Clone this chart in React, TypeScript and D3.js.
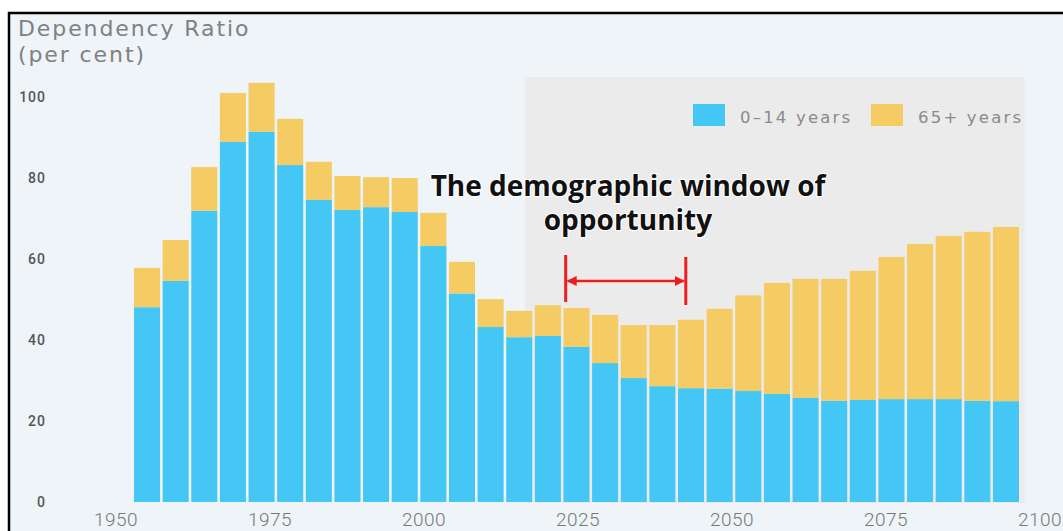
import React from "react";
import * as d3 from "d3";

const years: number[] = [1950, 1955, 1960, 1965, 1970, 1975, 1980, 1985, 1990, 1995, 2000, 2005, 2010, 2015, 2020, 2025, 2030, 2035, 2040, 2045, 2050, 2055, 2060, 2065, 2070, 2075, 2080, 2085, 2090, 2095, 2100];
const young: number[] = [48.1, 54.6, 71.9, 88.9, 91.4, 83.2, 74.6, 72.1, 72.8, 71.6, 63.2, 51.5, 43.2, 40.7, 41.0, 38.3, 34.3, 30.6, 28.6, 28.1, 28.0, 27.4, 26.7, 25.7, 25.0, 25.2, 25.4, 25.4, 25.4, 25.0, 24.9];
const old: number[] = [9.7, 10.1, 10.8, 12.1, 12.1, 11.4, 9.4, 8.4, 7.4, 8.4, 8.2, 7.8, 6.9, 6.5, 7.6, 9.6, 11.9, 13.1, 15.1, 16.9, 19.7, 23.6, 27.4, 29.4, 30.1, 31.9, 35.1, 38.3, 40.3, 41.7, 43.0];
const yTicks: number[] = [0, 20, 40, 60, 80, 100];
const xTicks: number[] = [1950, 1975, 2000, 2025, 2050, 2075, 2100];
const seriesNames: string[] = ["0\u201314 years", "65+ years"];
const seriesColors: string[] = ["#44c7f4", "#f5cb63"];
const windowYears: number[] = [2023, 2042.5];
const shadeYears: number[] = [2016.4, 2097.5];
const annotationLines: string[] = ["The demographic window of", "opportunity"];

export default function App() {
  const W = 1063, H = 531;
  const y = d3.scaleLinear().domain([0, 100]).range([502, 97]);
  const xb = d3.scaleBand<number>().domain(years).range([134, 1019]).paddingInner(0.09).paddingOuter(0);
  const xa = d3.scaleLinear().domain([1950, 2100]).range([116, 1040]);

  const rows = years.map((yr, i) => ({ year: yr, young: young[i], old: old[i] }));
  const stack = d3.stack<any>().keys(["young", "old"])(rows);

  const arrowY = 281;
  const xL = xa(windowYears[0]);
  const xR = xa(windowYears[1]);
  const wide = "'DejaVu Sans', Verdana, sans-serif";

  return (
    <svg width={W} height={H} style={{ position: "absolute", left: 0, top: 0, background: "#ffffff" }}>
      <defs>
        <marker id="ah" viewBox="0 0 10 10" refX="9" refY="5" markerWidth="4" markerHeight="4" orient="auto-start-reverse">
          <path d="M0,0 L10,5 L0,10 z" fill="#ee1c1c" />
        </marker>
      </defs>
      <rect x={0} y={0} width={W} height={H} fill="#ffffff" />
      <rect x={9} y={13} width={W} height={H} fill="#eef4f8" stroke="#000" strokeWidth={2.5} />
      <rect x={xa(shadeYears[0])} y={77} width={xa(shadeYears[1]) - xa(shadeYears[0])} height={y(0) + 1 - 77} fill="#ebebeb" />

      <text x={18} y={36} fontFamily={wide} fontSize={22} fill="#808080" letterSpacing={1.9}>Dependency Ratio</text>
      <text x={18} y={62} fontFamily={wide} fontSize={22} fill="#808080" letterSpacing={1.9}>(per cent)</text>

      {yTicks.map((t) => (
        <text key={t} x={46} y={y(t) + 5} textAnchor="end" fontFamily="Roboto, Arial, sans-serif" fontSize={14} fontWeight={500} fill="#555" letterSpacing={1}>{t}</text>
      ))}
      {xTicks.map((t) => (
        <text key={t} x={xa(t)} y={526} textAnchor="middle" fontFamily="Roboto, Arial, sans-serif" fontSize={19} fontWeight={300} fill="#777" letterSpacing={0.5}>{t}</text>
      ))}

      {stack.map((s, si) => (
        <g key={si} fill={seriesColors[si]}>
          {s.map((d: any, i: number) => (
            <rect key={i} x={xb(years[i])} y={y(d[1])} width={xb.bandwidth()} height={y(d[0]) - y(d[1])} />
          ))}
        </g>
      ))}

      <g>
        {seriesNames.map((n, i) => (
          <g key={n} transform={`translate(${[693, 871][i]},104)`}>
            <rect x={0} y={0} width={32} height={22} fill={seriesColors[i]} />
            <text x={47} y={19} fontFamily={wide} fontSize={16.5} fill="#8a8a8a" letterSpacing={2.2}>{n}</text>
          </g>
        ))}
      </g>

      <text textAnchor="middle" fontFamily="'Open Sans', sans-serif" fontWeight={700} fontSize={28} fill="#111" stroke="#ffffff" strokeWidth={2} paintOrder="stroke">
        {annotationLines.map((l, i) => (
          <tspan key={i} x={628} y={196 + i * 34}>{l}</tspan>
        ))}
      </text>

      <line x1={xL} x2={xL} y1={255} y2={302} stroke="#ee1c1c" strokeWidth={3} />
      <line x1={xR} x2={xR} y1={257} y2={305} stroke="#ee1c1c" strokeWidth={3} />
      <line x1={xL + 2} x2={xR - 2} y1={arrowY} y2={arrowY} stroke="#ee1c1c" strokeWidth={2.5} markerStart="url(#ah)" markerEnd="url(#ah)" />
    </svg>
  );
}
